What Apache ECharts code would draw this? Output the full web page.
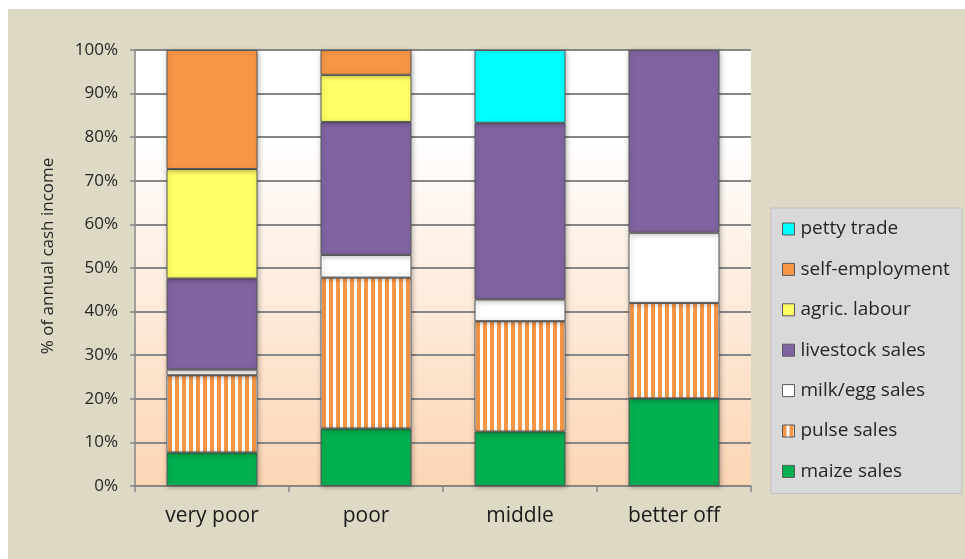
<!DOCTYPE html>
<html>
<head>
<meta charset="utf-8">
<script src="https://cdn.jsdelivr.net/npm/echarts@6/dist/echarts.min.js"></script>
<style>
  html, body { margin: 0; padding: 0; background: #ffffff; }
  #chart { width: 965px; height: 559px; }
</style>
</head>
<body>
<div id="chart"></div>
<script>
// Wealth groups and the share of annual cash income from each source (%)
const categories = ['very poor', 'poor', 'middle', 'better off'];
const maizeSales      = [7.7, 13.2, 12.5, 20.1];
const pulseSales      = [17.7, 34.6, 25.3, 21.9];
const milkEggSales    = [1.3, 5.2, 5.0, 16.1];
const livestockSales  = [20.9, 30.5, 40.5, 41.9];
const agricLabour     = [25.1, 10.8, 0, 0];
const selfEmployment  = [27.3, 5.7, 0, 0];
const pettyTrade      = [0, 0, 16.7, 0];
const yTicks = [0, 10, 20, 30, 40, 50, 60, 70, 80, 90, 100];

const FONT = '"Open Sans", "Liberation Sans", sans-serif';

// Vertical orange/white stripe fill for pulse sales
function stripePattern() {
  const c = document.createElement('canvas');
  c.width = 7; c.height = 8;
  const g = c.getContext('2d');
  g.fillStyle = '#ffffff';
  g.fillRect(0, 0, 7, 8);
  g.fillStyle = '#F79646';
  g.fillRect(0, 0, 4, 8);
  return { image: c, repeat: 'repeat' };
}

const seriesDefs = [
  { name: 'maize sales', data: maizeSales, color: '#00B050' },
  { name: 'pulse sales', data: pulseSales, color: stripePattern() },
  { name: 'milk/egg sales', data: milkEggSales, color: '#FFFFFF' },
  { name: 'livestock sales', data: livestockSales, color: '#8064A2' },
  { name: 'agric. labour', data: agricLabour, color: '#FFFF66' },
  { name: 'self-employment', data: selfEmployment, color: '#F79646' },
  { name: 'petty trade', data: pettyTrade, color: '#00FFFF' }
];

const chart = echarts.init(document.getElementById('chart'), null, { renderer: 'canvas' });

chart.setOption({
  backgroundColor: '#ffffff',
  animation: false,
  graphic: [
    {
      type: 'rect', z: -10, silent: true,
      shape: { x: 8, y: 9, width: 957, height: 550 },
      style: { fill: '#DDD9C4' }
    },
    {
      type: 'text', silent: true,
      x: 48, y: 256, rotation: Math.PI / 2,
      style: {
        text: '% of annual cash income',
        font: '17px ' + FONT,
        fill: '#262626',
        align: 'center', verticalAlign: 'middle'
      }
    }
  ],
  grid: {
    left: 135, right: 214, top: 50, bottom: 73,
    show: true,
    borderWidth: 0,
    backgroundColor: {
      type: 'linear', x: 0, y: 0, x2: 0, y2: 1,
      colorStops: [
        { offset: 0, color: '#FFFFFF' },
        { offset: 0.2, color: '#FFFFFF' },
        { offset: 1, color: '#FCD5B4' }
      ]
    }
  },
  legend: {
    orient: 'vertical',
    left: 771, top: 208,
    data: ['petty trade', 'self-employment', 'agric. labour', 'livestock sales',
           'milk/egg sales', 'pulse sales', 'maize sales'],
    backgroundColor: '#D9D9D9',
    borderColor: '#BFBFBF',
    borderWidth: 1,
    borderRadius: 0,
    padding: [11, 12, 12, 11],
    itemGap: 20.4,
    itemWidth: 12,
    itemHeight: 12,
    icon: 'rect',
    itemStyle: { borderColor: '#595959', borderWidth: 1, shadowBlur: 0 },
    textStyle: { fontFamily: FONT, fontSize: 19, color: '#262626', lineHeight: 20, padding: [0, 0, 0, 1] }
  },
  xAxis: {
    type: 'category',
    data: categories,
    axisLine: { lineStyle: { color: '#868686', width: 1.5 } },
    axisTick: { show: true, length: 6, inside: false, lineStyle: { color: '#868686', width: 1.5 } },
    axisLabel: { fontFamily: FONT, fontSize: 21, color: '#1a1a1a', margin: 20 },
    splitLine: { show: false }
  },
  yAxis: {
    type: 'value',
    min: 0, max: 100, interval: 10,
    axisLine: { show: true, lineStyle: { color: '#868686', width: 1.5 } },
    axisTick: { show: true, length: 5, lineStyle: { color: '#868686', width: 1.5 } },
    axisLabel: {
      fontFamily: FONT, fontSize: 17, color: '#262626', margin: 17,
      formatter: v => yTicks.includes(v) ? v + '%' : ''
    },
    splitLine: { show: true, lineStyle: { color: '#878787', width: 1.8 } }
  },
  series: seriesDefs.map(s => ({
    name: s.name,
    type: 'bar',
    stack: 'income',
    barWidth: 91,
    data: s.data.map(v => (v === 0 ? null : v)),
    itemStyle: {
      color: s.color,
      borderColor: '#595959',
      borderWidth: 1,
      shadowBlur: 5,
      shadowColor: 'rgba(0,0,0,0.3)',
      shadowOffsetX: 1,
      shadowOffsetY: 1
    },
    emphasis: { disabled: true }
  }))
});
</script>
</body>
</html>
